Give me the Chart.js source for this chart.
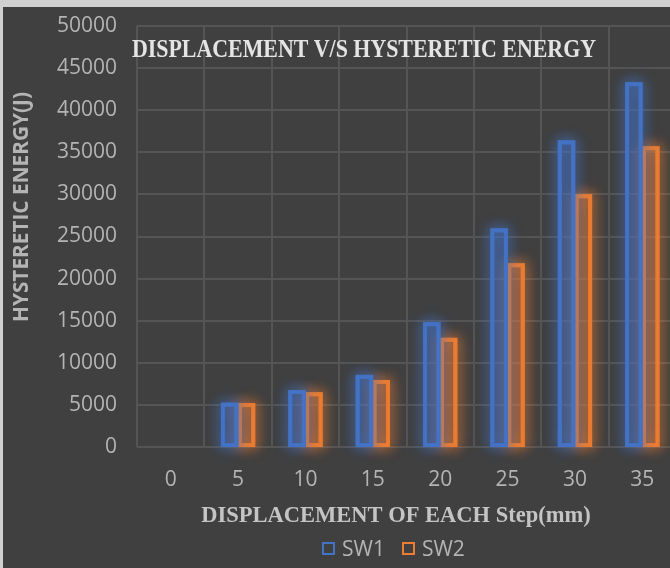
<!DOCTYPE html>
<html>
<head>
<meta charset="utf-8">
<script src="https://cdn.jsdelivr.net/npm/chart.js@4"></script>
<style>
  html, body { margin: 0; padding: 0; width: 670px; height: 568px; overflow: hidden; background: #d0d0d0; }
  #frame { position: absolute; left: 3px; top: 7px; width: 690px; height: 561px; background: #404040; }
  #chart { display: block; }
  #legend { position: absolute; left: 319px; top: 528px; height: 26px; display: flex; align-items: center;
            font-family: "Open Sans", sans-serif; font-size: 21px; color: #b4b4b4; }
  #legend .item { display: flex; align-items: center; margin-right: 17px; }
  #legend .box { width: 9px; height: 9px; border: 2px solid; margin-right: 7px; }
</style>
</head>
<body>
<div id="frame">
  <canvas id="chart" width="690" height="561"></canvas>
  <div id="legend"></div>
</div>
<script>
// Displacement steps (mm) and hysteretic energy (J) per shear wall
const steps = ['0', '5', '10', '15', '20', '25', '30', '35'];
const sw1 = [0, 5150, 6650, 8450, 14700, 25850, 36300, 43200];
const sw2 = [0, 5100, 6380, 7840, 12850, 21700, 29900, 35600];
const seriesNames = ['SW1', 'SW2'];
const yTicks = { min: 0, max: 50000, step: 5000 };

const strokeColors = ['#4472C4', '#ED7D31'];
const fillColors = ['rgba(68,114,196,0.24)', 'rgba(237,125,49,0.22)'];
const glowColors = ['rgba(68,114,196,0.9)', 'rgba(237,125,49,0.9)'];

const tickFont = { family: '"Open Sans", sans-serif', size: 21 };
const gridColor = '#555555';

// Soft coloured halo behind every bar, taken from the bar element geometry
const barGlow = {
  id: 'barGlow',
  beforeDatasetDraw(chart, args) {
    const ctx = chart.ctx;
    const color = glowColors[args.index];
    ctx.save();
    ctx.strokeStyle = color;
    ctx.lineWidth = 4;
    ctx.shadowColor = color;
    ctx.shadowBlur = 14;
    args.meta.data.forEach(bar => {
      const { x, y, base, width } = bar.getProps(['x', 'y', 'base', 'width'], true);
      if (Math.abs(base - y) < 1) return;
      for (let k = 0; k < 2; k++) {
        ctx.strokeRect(x - width / 2 + 1, y + 1, width - 2, base - y - 2);
      }
    });
    ctx.restore();
  }
};

// Sets a font size so that the text spans the given length
function fitText(ctx, text, weight, family, baseSize, length) {
  ctx.font = `${weight} ${baseSize}px ${family}`;
  const natural = ctx.measureText(text).width;
  ctx.font = `${weight} ${baseSize * length / natural}px ${family}`;
}

// Chart heading and axis captions
const captions = {
  id: 'captions',
  afterDraw(chart) {
    const ctx = chart.ctx;
    ctx.save();
    ctx.textBaseline = 'alphabetic';

    // heading, set in a tall bold serif and narrowed to its column
    const heading = 'DISPLACEMENT V/S HYSTERETIC ENERGY';
    ctx.fillStyle = '#e4e4e4';
    ctx.font = 'bold 25px "Liberation Serif", serif';
    const natural = ctx.measureText(heading).width;
    ctx.save();
    ctx.translate(129, 50);
    ctx.scale(464 / natural, 1);
    ctx.textAlign = 'left';
    ctx.fillText(heading, 0, 0);
    ctx.restore();

    ctx.fillStyle = '#c4c4c4';
    ctx.font = 'bold 22.5px "Liberation Serif", serif';
    ctx.textAlign = 'center';
    ctx.fillText('DISPLACEMENT OF EACH Step(mm)', 393, 515);

    ctx.fillStyle = '#b4b4b4';
    fitText(ctx, 'HYSTERETIC ENERGY(J)', 'bold', '"Open Sans", sans-serif', 19, 230);
    ctx.translate(19, 200);
    ctx.rotate(-Math.PI / 2);
    ctx.textAlign = 'center';
    ctx.textBaseline = 'middle';
    ctx.fillText('HYSTERETIC ENERGY(J)', 0, 0);
    ctx.restore();
  }
};

const datasets = [sw1, sw2].map((values, i) => ({
  label: seriesNames[i],
  data: values,
  borderColor: strokeColors[i],
  backgroundColor: fillColors[i],
  borderWidth: 2.5,
  borderSkipped: false,
  categoryPercentage: 0.5,
  barPercentage: 0.92
}));

new Chart(document.getElementById('chart'), {
  type: 'bar',
  data: { labels: steps, datasets },
  options: {
    responsive: false,
    animation: false,
    layout: { padding: { top: 19, right: 17, left: 0, bottom: 0 } },
    plugins: {
      legend: { display: false },
      title: { display: false },
      tooltip: { enabled: false }
    },
    scales: {
      x: {
        grid: { color: gridColor, lineWidth: 2, drawTicks: false, offset: true },
        border: { display: false },
        ticks: { color: '#b4b4b4', font: tickFont, padding: 20 },
        afterFit(scale) { scale.height = 121; }
      },
      y: {
        min: yTicks.min,
        max: yTicks.max,
        grid: { color: gridColor, lineWidth: 2, drawTicks: false },
        border: { display: false },
        ticks: {
          stepSize: yTicks.step,
          color: '#b4b4b4',
          font: tickFont,
          padding: 20,
          callback: v => String(v)
        },
        afterFit(scale) {
          scale.width = 134;
          scale.paddingTop = 0;
          scale.paddingBottom = 0;
        }
      }
    }
  },
  plugins: [barGlow, captions]
});

// Legend entries
const legend = document.getElementById('legend');
seriesNames.forEach((name, i) => {
  const item = document.createElement('div');
  item.className = 'item';
  const box = document.createElement('span');
  box.className = 'box';
  box.style.borderColor = strokeColors[i];
  const text = document.createElement('span');
  text.textContent = name;
  item.appendChild(box);
  item.appendChild(text);
  legend.appendChild(item);
});
</script>
</body>
</html>
